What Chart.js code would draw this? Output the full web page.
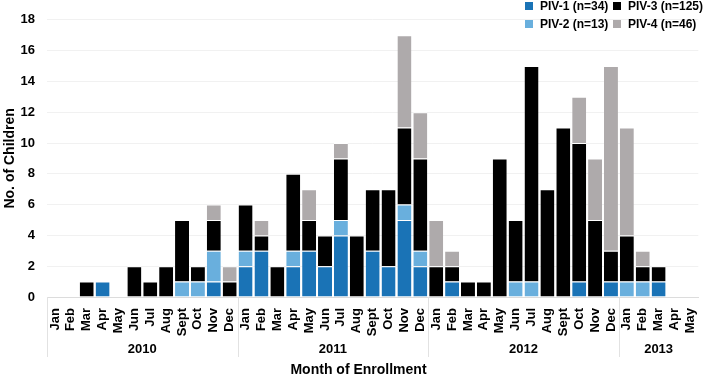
<!DOCTYPE html>
<html>
<head>
<meta charset="utf-8">
<script src="https://cdn.jsdelivr.net/npm/chart.js@4.4.0/dist/chart.umd.min.js"></script>
<style>
  body { margin: 0; background: #fff; }
  #wrap { position: relative; width: 709px; height: 379px; }
  #legend {
    position: absolute; top: -3px; left: 525px;
    display: grid; grid-template-columns: 88px 96px;
    font: bold 12px "Liberation Sans", Arial, sans-serif; color: #000;
  }
  #legend div { display: flex; align-items: center; height: 18px; white-space: nowrap; }
  #legend span.box { flex: none; display: inline-block; width: 8px; height: 8px; margin-right: 7px; }
</style>
</head>
<body>
<div id="wrap">
  <canvas id="myChart" width="709" height="379"></canvas>
  <div id="legend"></div>
</div>
<script>
// month labels, Jan 2010 - May 2013
const monthNames = ["Jan","Feb","Mar","Apr","May","Jun","Jul","Aug","Sept","Oct","Nov","Dec"];
const months = [].concat(monthNames, monthNames, monthNames, monthNames.slice(0, 5));

const years = ["2010", "2011", "2012", "2013"];
const yearStart = [0, 12, 24, 36];
const yearEnd = [11, 23, 35, 40];

const piv1 = [0,0,0,1,0,0,0,0,0,0,1,0,
              2,3,0,2,3,2,4,0,3,2,5,2,
              0,1,0,0,0,0,0,0,0,1,0,1,
              0,0,1,0,0];
const piv2 = [0,0,0,0,0,0,0,0,1,1,2,0,
              1,0,0,1,0,0,1,0,0,0,1,1,
              0,0,0,0,0,1,1,0,0,0,0,0,
              1,1,0,0,0];
const piv3 = [0,0,1,0,0,2,1,2,4,1,2,1,
              3,1,2,5,2,2,4,4,4,5,5,6,
              2,1,1,1,9,4,14,7,11,9,5,2,
              3,1,1,0,0];
const piv4 = [0,0,0,0,0,0,0,0,0,0,1,1,
              0,1,0,0,2,0,1,0,0,0,6,3,
              3,1,0,0,0,0,0,0,0,3,4,12,
              7,1,0,0,0];

const seriesNames = ["PIV-1 (n=34)", "PIV-2 (n=13)", "PIV-3 (n=125)", "PIV-4 (n=46)"];
const colors = ["#1a73b6", "#69afdd", "#000000", "#aeaaab"];
const xTitle = "Month of Enrollment";

const font = "'Liberation Sans', Arial, sans-serif";

// year row, separators and x title under the month labels
const yearRow = {
  id: "yearRow",
  afterDraw(chart) {
    const ctx = chart.ctx;
    const x = chart.scales.x;
    const top = chart.chartArea.bottom;
    ctx.save();
    ctx.strokeStyle = "#e2e2e2";
    ctx.lineWidth = 1;
    for (let i = 0; i < years.length; i++) {
      const px = Math.round(x.getPixelForValue(yearStart[i] - 0.5)) + 0.5;
      ctx.beginPath();
      ctx.moveTo(px, top);
      ctx.lineTo(px, 357);
      ctx.stroke();
    }
    ctx.fillStyle = "#000";
    ctx.font = "bold 13px " + font;
    ctx.textAlign = "center";
    ctx.textBaseline = "middle";
    for (let i = 0; i < years.length; i++) {
      const mid = (yearStart[i] + yearEnd[i]) / 2;
      ctx.fillText(years[i], x.getPixelForValue(mid), 349);
    }
    ctx.font = "bold 14px " + font;
    ctx.fillText(xTitle, chart.width / 2 + 4, 370);
    ctx.restore();
  }
};

const ds = [piv1, piv2, piv3, piv4].map((d, i) => ({
  label: seriesNames[i],
  data: d,
  backgroundColor: colors[i],
  borderColor: "#ffffff",
  borderWidth: {top: 1, left: 0, right: 0, bottom: 0},
  borderSkipped: false,
  barPercentage: 0.88,
  categoryPercentage: 1.0
}));

const myChart = new Chart(document.getElementById("myChart").getContext("2d"), {
  type: "bar",
  data: { labels: months, datasets: ds },
  plugins: [yearRow],
  options: {
    responsive: false,
    animation: false,
    layout: { padding: { top: 7, right: 1, bottom: 0, left: 0 } },
    plugins: {
      legend: { display: false },
      tooltip: { enabled: false }
    },
    scales: {
      x: {
        stacked: true,
        grid: { display: false },
        border: { display: true, color: "#dcdcdc" },
        ticks: {
          minRotation: 90, maxRotation: 90, autoSkip: false, padding: 3,
          color: "#000", font: { family: font, size: 13, weight: "bold" }
        },
        afterFit(s) { s.height = 82; }
      },
      y: {
        stacked: true,
        min: 0, max: 18,
        grid: { color: "#f1f1f1", drawTicks: false },
        border: { display: false },
        ticks: {
          stepSize: 2, padding: 12, color: "#000",
          font: { family: font, size: 13, weight: "bold" }
        },
        title: {
          display: true, text: "No. of Children", color: "#000",
          font: { family: font, size: 14, weight: "bold" },
          padding: { top: 2, bottom: 0 }
        },
        afterFit(s) { s.width = 47; }
      }
    }
  }
});

// legend, 2 x 2 like the original
const legendOrder = [0, 2, 1, 3];
const legend = document.getElementById("legend");
legendOrder.forEach(i => {
  const item = document.createElement("div");
  item.innerHTML = '<span class="box" style="background:' + colors[i] + '"></span>' + seriesNames[i];
  legend.appendChild(item);
});
</script>
</body>
</html>
